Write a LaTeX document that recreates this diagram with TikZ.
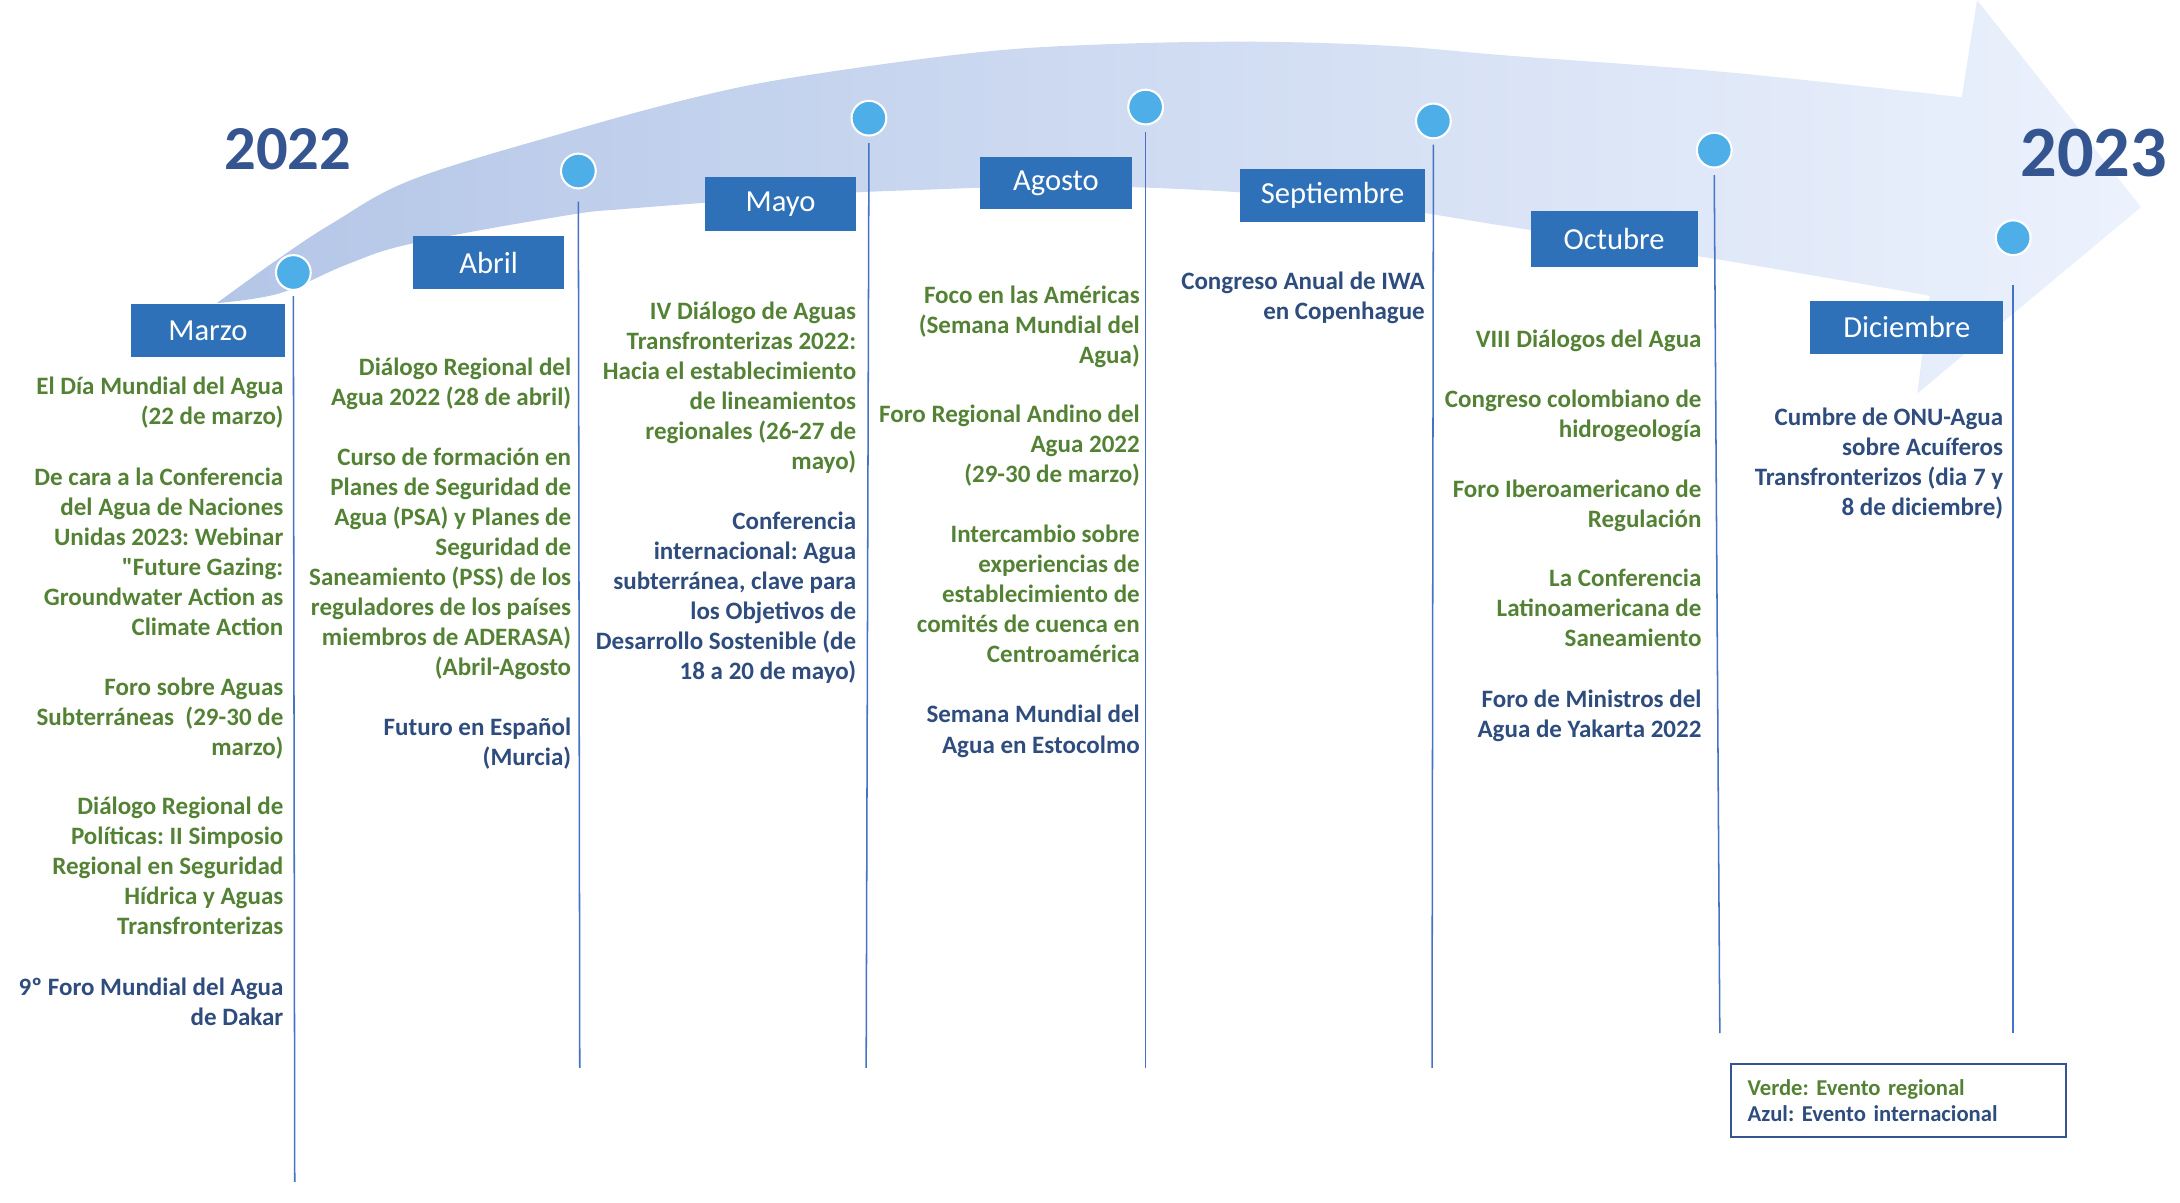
\documentclass[tikz,border=0pt]{standalone}
\usepackage{fontspec}
\setmainfont{Carlito}[Ligatures=TeXOff]
\usepackage{tikz}
\usetikzlibrary{positioning}
\definecolor{regional}{RGB}{84,130,53}
\definecolor{intl}{RGB}{46,76,125}
\definecolor{yearblue}{RGB}{53,85,145}
\definecolor{monthblue}{RGB}{46,113,184}
\definecolor{tickblue}{RGB}{68,114,196}
\definecolor{dotblue}{RGB}{77,174,232}
\definecolor{bandleft}{RGB}{180,198,231}
\definecolor{bandright}{RGB}{236,242,253}
\frenchspacing

\begin{document}
\begin{tikzpicture}[
    x=1pt, y=-1pt,
    month/.style={fill=monthblue, text=white, font=\fontsize{22}{22}\selectfont, minimum height=38pt, minimum width=109pt, inner sep=0pt},
    dot/.style={circle, fill=dotblue, draw=white, line width=1.5pt, minimum size=25pt, inner sep=0pt, outer sep=0pt},
    vline/.style={draw=tickblue, line width=1.1pt},
    event/.style={anchor=base east, align=right, inner sep=0pt, font=\fontsize{18}{21.6}\selectfont\bfseries},
    regevt/.style={event, text=regional},
    intevt/.style={event, text=intl},
    year/.style={text=yearblue, inner sep=0pt},
    legendbox/.style={draw=yearblue, line width=1.4pt, minimum width=241pt, minimum height=53pt, text width=217pt, align=left, inner sep=0pt, font=\fontsize{16.3}{19}\selectfont\bfseries},
]
\useasboundingbox (0,0) rectangle (1568,865);

% ─────────────────────────────────────────
% Background arrow
% ─────────────────────────────────────────
\shade[left color=bandleft, right color=bandright]
  plot[smooth, tension=0.6] coordinates {(156,218) (199,187) (240,160) (297,129) (404,96) (500,70) (575,55) (700,38) (791,32) (900,30) (1000,33) (1085,40) (1232,51) (1367,65) (1411,70)}
  -- (1422,0) -- (1540,149) -- (1379,283)
  -- plot[smooth, tension=0.6] coordinates {(1388,213) (1367,209) (1232,186) (1085,163) (950,143) (791,134) (650,137) (575,141) (453,150) (407,155) (297,175) (250,190) (201,211) (156,218)}
  -- cycle;

% Years
\node[year, font=\fontsize{45}{45}\selectfont\bfseries] (y2022) at (207,107) {2022};
\node[year, font=\fontsize{52}{52}\selectfont\bfseries] (y2023) at (1506,110) {2023};

% ─────────────────────────────────────────
% Dots and vertical lines
% ─────────────────────────────────────────
\node[dot] (dmar) at (211,196) {};
\node[dot] (dabr) at (416,123) {};
\node[dot] (dmay) at (625,85) {};
\node[dot] (dago) at (824,77) {};
\node[dot] (dsep) at (1031,87) {};
\node[dot] (doct) at (1233,108) {};
\node[dot] (ddic) at (1448,171) {};

\coordinate (emar) at (212,850);
\coordinate (eabr) at (417,768);
\coordinate (emay) at (623,768);
\coordinate (eago) at (824,768);
\coordinate (esep) at (1030,768);
\coordinate (eoct) at (1237,743);
\coordinate (edic) at (1448,743);

\draw[vline] ([yshift=-4.5pt]dmar.south) -- (emar);
\draw[vline] ([yshift=-9.5pt]dabr.south) -- (eabr);
\draw[vline] ([yshift=-5.5pt]dmay.south) -- (emay);
\draw[vline] ([yshift=-5.5pt]dago.south) -- (eago);
\draw[vline] ([yshift=-4.5pt]dsep.south) -- (esep);
\draw[vline] ([yshift=-5.5pt]doct.south) -- (eoct);
\draw[vline] ([yshift=-21.5pt]ddic.south) -- (edic);

% ─────────────────────────────────────────
% Month labels
% ─────────────────────────────────────────
\node[month, minimum width=111pt] (marzo) at (149.5,238) {Marzo};
\node[month] (abril) at (351.5,189) {Abril};
\node[month, minimum height=39pt] (mayo) at (561.5,146.5) {Mayo};
\node[month, minimum height=37pt] (agosto) at (759.5,131.5) {Agosto};
\node[month, minimum width=133pt] (septiembre) at (958.5,140.5) {Septiembre};
\node[month, minimum width=120pt, minimum height=40pt] (octubre) at (1161,172) {Octubre};
\node[month, minimum width=139pt] (diciembre) at (1371.5,235.5) {Diciembre};

% ─────────────────────────────────────────
% Events (placed at the baseline of their last line)
% ─────────────────────────────────────────
% March
\node[regevt] (m1) at (204,305.6) {El Día Mundial del Agua\\(22 de marzo)};
\node[regevt] (m2) at (204,457) {De cara a la Conferencia\\del Agua de Naciones\\Unidas 2023: Webinar\\"Future Gazing:\\Groundwater Action as\\Climate Action};
\node[regevt] (m3) at (204,543.2) {Foro sobre Aguas\\Subterráneas\ \ (29-30 de\\marzo)};
\node[regevt] (m4) at (204,672.4) {Diálogo Regional de\\Políticas: II Simposio\\Regional en Seguridad\\Hídrica y Aguas\\Transfronterizas};
\node[intevt] (m5) at (204,737.6) {9º Foro Mundial del Agua\\de Dakar};

% April
\node[regevt] (a1) at (411,291.6) {Diálogo Regional del\\Agua 2022 (28 de abril)};
\node[regevt] (a2) at (411,486.2) {Curso de formación en\\Planes de Seguridad de\\Agua (PSA) y Planes de\\Seguridad de\\Saneamiento (PSS) de los\\reguladores de los países\\miembros de ADERASA)\\(Abril-Agosto};
\node[intevt] (a3) at (411,550.6) {Futuro en Español\\(Murcia)};

% May
\node[regevt] (y1) at (616,338) {IV Diálogo de Aguas\\Transfronterizas 2022:\\Hacia el establecimiento\\de lineamientos\\regionales (26-27 de\\mayo)};
\node[intevt] (y2) at (616,489) {Conferencia\\internacional: Agua\\subterránea, clave para\\los Objetivos de\\Desarrollo Sostenible (de\\18 a 20 de mayo)};

% August
\node[regevt] (g1) at (820,261.2) {Foco en las Américas\\(Semana Mundial del\\Agua)};
\node[regevt] (g2) at (820,347.2) {Foro Regional Andino del\\Agua 2022\\(29-30 de marzo)};
\node[regevt] (g3) at (820,476.4) {Intercambio sobre\\experiencias de\\establecimiento de\\comités de cuenca en\\Centroamérica};
\node[intevt] (g4) at (820,541.6) {Semana Mundial del\\Agua en Estocolmo};

% September
\node[intevt] (s1) at (1025,229.6) {Congreso Anual de IWA\\en Copenhague};

% October
\node[regevt] (o1) at (1224,250) {VIII Diálogos del Agua};
\node[regevt] (o2) at (1224,314.6) {Congreso colombiano de\\hidrogeología};
\node[regevt] (o3) at (1224,379.6) {Foro Iberoamericano de\\Regulación};
\node[regevt] (o4) at (1224,465.2) {La Conferencia\\Latinoamericana de\\Saneamiento};
\node[intevt] (o5) at (1224,530.6) {Foro de Ministros del\\Agua de Yakarta 2022};

% December
\node[intevt] (d1) at (1441,370.8) {Cumbre de ONU-Agua\\sobre Acuíferos\\Transfronterizos (dia 7 y\\8 de diciembre)};

% Legend
\node[legendbox] (leyenda) at (1365.5,791.5) {\textcolor{regional}{Verde: Evento regional}\\\textcolor{intl}{Azul: Evento internacional}};

\end{tikzpicture}
\end{document}
